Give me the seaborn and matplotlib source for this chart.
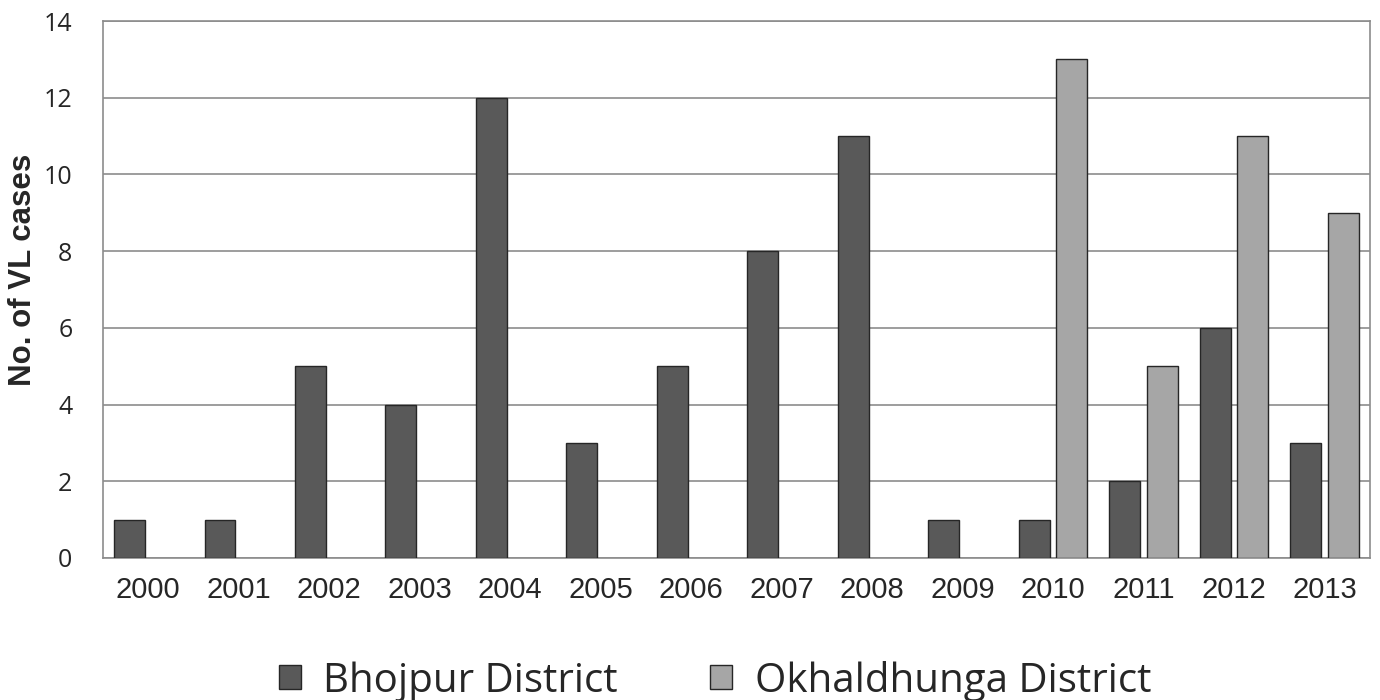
import pandas as pd
import seaborn as sns
import matplotlib.pyplot as plt
from matplotlib.patches import Patch

years = [str(y) for y in range(2000, 2014)]
bhojpur = [1, 1, 5, 4, 12, 3, 5, 8, 11, 1, 1, 2, 6, 3]
okhaldhunga = [0, 0, 0, 0, 0, 0, 0, 0, 0, 0, 13, 5, 11, 9]
districts = ['Bhojpur District', 'Okhaldhunga District']
colors = ['#595959', '#a6a6a6']

df = pd.DataFrame({
    'year': years * 2,
    'cases': bhojpur + okhaldhunga,
    'district': [districts[0]] * len(years) + [districts[1]] * len(years),
})
# zero counts are simply not drawn in the original
df = df[df['cases'] > 0]

sns.set_style('white')
fig = plt.figure(figsize=(13.8, 7), dpi=100)
ax = fig.add_axes([0.0746, 0.203, 0.918, 0.767])

sns.barplot(data=df, x='year', y='cases', hue='district', order=years,
            hue_order=districts, palette=colors, width=0.83, gap=0.18,
            edgecolor='#262626', linewidth=1, legend=False, ax=ax, zorder=3)

ax.set_ylim(0, 14)
ax.set_yticks(range(0, 15, 2))
ax.set_xlim(-0.5, len(years) - 0.5)
ax.yaxis.grid(True, color='#8c8c8c', linewidth=1.2, zorder=0)
ax.set_axisbelow(True)
for s in ax.spines.values():
    s.set_color('#8c8c8c')
    s.set_linewidth(1.2)

ax.set_xlabel('')
ax.set_ylabel('No. of VL cases', fontsize=22.5, fontweight='bold',
              family='Liberation Sans')
ax.yaxis.set_label_coords(-0.051, 0.536)
ax.tick_params(axis='both', length=0)
ax.tick_params(axis='x', pad=13)
ax.tick_params(axis='y', pad=22)
for t in ax.get_xticklabels():
    t.set_family('Liberation Sans')
    t.set_fontsize(21)
for t in ax.get_yticklabels():
    t.set_family('Open Sans')
    t.set_fontsize(18)

handles = [Patch(facecolor=c, edgecolor='#262626', linewidth=1) for c in colors]
fig.legend(handles, districts, loc='center', bbox_to_anchor=(0.518, 0.027),
           ncol=2, frameon=False, prop={'family': 'Open Sans', 'size': 29},
           handlelength=0.55, handleheight=0.55, handletextpad=0.55,
           columnspacing=2.3)

fig.savefig('out.png', dpi=100)
